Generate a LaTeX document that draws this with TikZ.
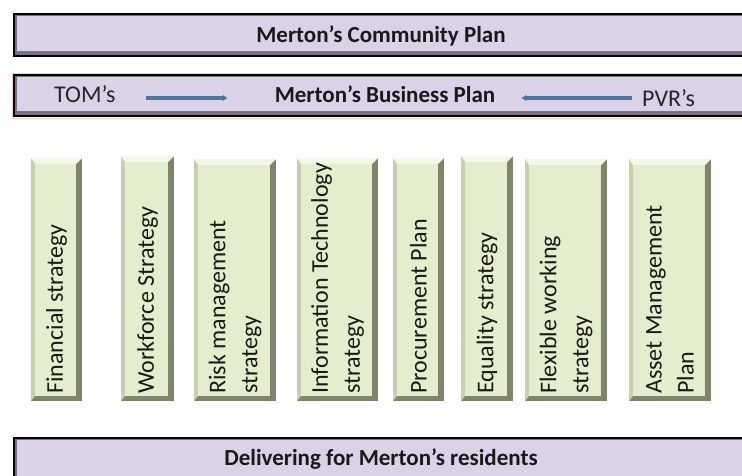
\documentclass[tikz,border=0pt]{standalone}
\usepackage{fontspec}
\setmainfont{Carlito}
\usetikzlibrary{arrows.meta}
\definecolor{lilac}{RGB}{220,210,232}
\definecolor{bargray}{RGB}{118,116,124}
\definecolor{colface}{RGB}{228,238,205}
\definecolor{collight}{RGB}{243,247,232}
\definecolor{colleft}{RGB}{198,207,175}
\definecolor{colshade}{RGB}{126,133,106}
\definecolor{arrowblue}{RGB}{76,116,160}
\newcommand{\planbar}[2]{
    \fill[black] (13,#1) rectangle (760,#2);
    \fill[bargray] (15,#1+2) rectangle (760,#2-2);
    \fill[lilac] (17,#1+3) rectangle (760,#2-6);
}
\newcommand{\strategybox}[5]{
    \fill[colshade] (#2,#4) rectangle (#3,401);
    \fill[colleft] (#2,#4) -- (#2+4,#4+6) -- (#2+4,396) -- (#2,401) -- cycle;
    \fill[collight] (#2,#4) -- (#3,#4) -- (#3-6,#4+6) -- (#2+4,#4+6) -- cycle;
    \fill[colface] (#2+4,#4+6) rectangle (#3-6,396);
    \node[coltext] (#1) at ({(#2+#3)/2},394) {#5};
}

\begin{document}
\begin{tikzpicture}[x=1pt, y=-1pt,
    bartext/.style={font=\bfseries\fontsize{23}{28}\selectfont, anchor=base, inner sep=0pt, text=black!90},
    sidetext/.style={font=\fontsize{24}{28}\selectfont, anchor=base west, inner sep=0pt, text=black!85},
    coltext/.style={font=\fontsize{24}{32}\selectfont, rotate=90, anchor=west, align=left, inner sep=0pt, text=black!90},
    flow/.style={draw=arrowblue, line width=3.5pt, -{Latex[length=5pt,width=7pt]}}]
        \clip (0,0) rectangle (742,475);
        \fill[white] (0,0) rectangle (742,475);
        % plans
        \planbar{13}{57}
        \node[bartext] (community) at (381,42) {Merton's Community Plan};
        \draw[red!20, line width=0.6pt] (12,73) rectangle (762,118);
        \planbar{74}{117}
        \node[bartext] (business) at (385,102) {Merton's Business Plan};
        \node[sidetext] (toms) at (54,102) {TOM's};
        \node[sidetext] (pvrs) at (642,106) {PVR's};
        \draw[flow, shorten <=30pt, shorten >=47pt] ([yshift=4pt]toms.base east) -- ([yshift=4pt]toms.base east -| business.west);
        \draw[flow, shorten <=10pt, shorten >=26pt] ([yshift=8pt]pvrs.base west) -- ([yshift=8pt]pvrs.base west -| business.east);
        % strategies
        \strategybox{financial}{31}{82}{158}{Financial strategy}
        \strategybox{workforce}{121}{174}{156}{Workforce Strategy}
        \strategybox{risk}{194}{276}{159}{Risk management\\strategy}
        \strategybox{infotech}{297}{378}{158}{Information Technology\\strategy}
        \strategybox{procurement}{393}{444}{158}{Procurement Plan}
        \strategybox{equality}{461}{513}{156}{Equality strategy}
        \strategybox{flexible}{525}{607}{159}{Flexible working\\strategy}
        \strategybox{asset}{629}{711}{159}{Asset Management\\Plan}
        % residents
        \planbar{437}{495}
        \node[bartext] (residents) at (381,465) {Delivering for Merton's residents};
    \end{tikzpicture}
\end{document}
